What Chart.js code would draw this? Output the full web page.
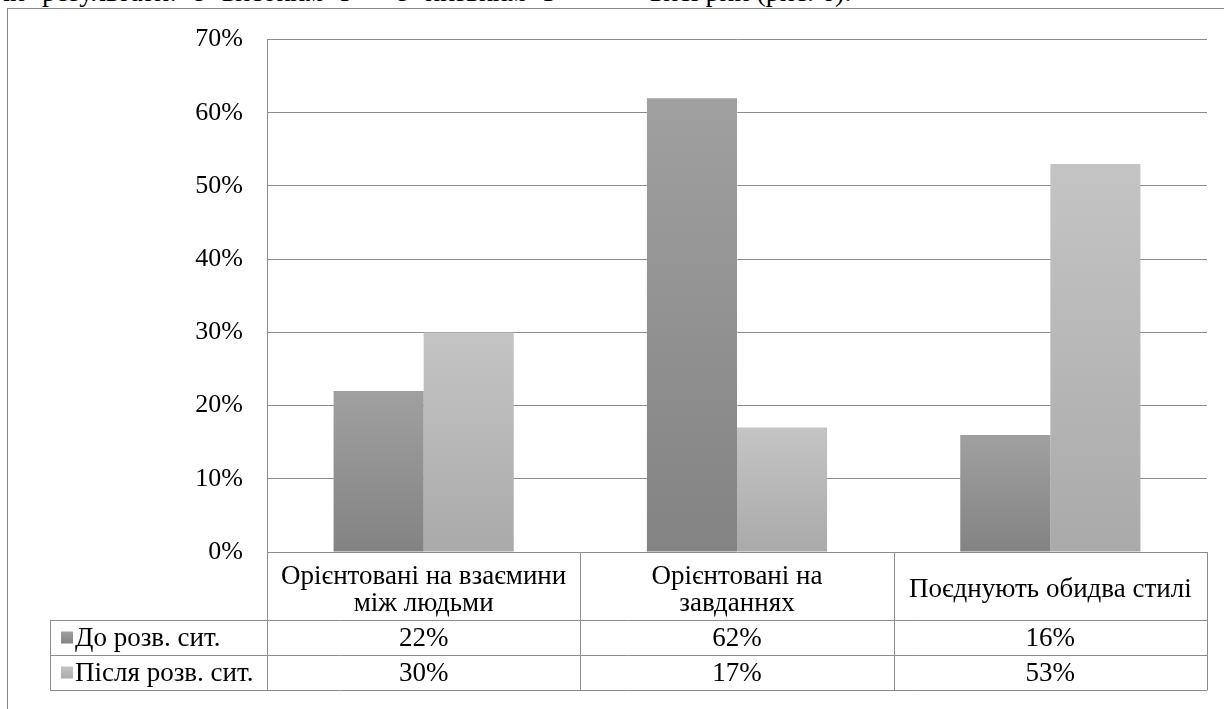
<!DOCTYPE html>
<html>
<head>
<meta charset="utf-8">
<script src="https://cdn.jsdelivr.net/npm/chart.js@4"></script>
<style>
  html, body { margin: 0; padding: 0; background: #fff; overflow: hidden; }
  #wrap { position: relative; width: 1224px; height: 709px; overflow: hidden; }
  .topline { position: absolute; top: -24px; font: 28px "Liberation Serif", "Times New Roman", serif; line-height: 32px; color: #000; white-space: pre; }
  #frame { position: absolute; left: 7px; top: 8px; width: 1230px; height: 720px; border-left: 1px solid #878787; border-top: 1px solid #878787; }
  #c { position: absolute; left: 0; top: 0; }
</style>
</head>
<body>
<div id="wrap">
  <div class="topline" style="left:-4px; word-spacing: 10px;">ли результати: з високим І – з низьким З</div>
  <div class="topline" style="left:650px;">висі рни (рис. 6).</div>
  <div id="frame"></div>
  <canvas id="c" width="1224" height="709"></canvas>
</div>
<script>
// дані діаграми
const categories = [
    ['Орієнтовані на взаємини', 'між людьми'],
    ['Орієнтовані на', 'завданнях'],
    ['Поєднують обидва стилі']
];
const seriesNames = ['До розв. сит.', 'Після розв. сит.'];
const beforeValues = [22, 62, 16];
const afterValues = [30, 17, 53];
const yMax = 70;
const yStep = 10;

const lineColor = '#8c8c8c';
const fontFam = '"Liberation Serif", "Times New Roman", serif';

// градієнт для кожного стовпчика окремо
function barFill(top, bottom) {
    return function (ctx) {
        const chart = ctx.chart;
        const y = chart.scales.y;
        if (!y || ctx.type !== 'data') return bottom;
        const y0 = y.getPixelForValue(0);
        const y1 = y.getPixelForValue(ctx.raw);
        if (!isFinite(y0) || !isFinite(y1) || y0 === y1) return bottom;
        const g = chart.ctx.createLinearGradient(0, y1, 0, y0);
        g.addColorStop(0, top);
        g.addColorStop(1, bottom);
        return g;
    };
}

const swatches = [['#a0a0a0', '#838383'], ['#c4c4c4', '#aaaaaa']];

// таблиця даних під графіком
const dataTable = {
    id: 'dataTable',
    afterDraw(chart) {
        const ctx = chart.ctx;
        const xs = chart.scales.x;
        const area = chart.chartArea;
        const n = categories.length;
        const w = (area.right - area.left) / n;
        const rowTop = area.bottom;
        const r1 = 620, r2 = 655, r3 = 690;
        const tableLeft = 50;

        ctx.save();
        ctx.strokeStyle = lineColor;
        ctx.lineWidth = 1;
        ctx.beginPath();
        for (let i = 0; i <= n; i++) {
            const x = Math.round(area.left + i * w) + 0.5;
            ctx.moveTo(x, rowTop);
            ctx.lineTo(x, r3);
        }
        [r1, r2, r3].forEach(function (y) {
            ctx.moveTo(tableLeft, y + 0.5);
            ctx.lineTo(Math.round(area.right) + 0.5, y + 0.5);
        });
        ctx.moveTo(tableLeft + 0.5, r1);
        ctx.lineTo(tableLeft + 0.5, r3);
        ctx.stroke();

        ctx.fillStyle = '#000';
        ctx.font = '27px ' + fontFam;
        ctx.textAlign = 'center';
        ctx.textBaseline = 'middle';
        const lh = 27;
        const mid = 590;
        categories.forEach(function (lab, i) {
            const cx = xs.getPixelForValue(i);
            const lines = Array.isArray(lab) ? lab : [lab];
            const start = mid - (lines.length - 1) * lh / 2;
            lines.forEach(function (t, k) {
                ctx.fillText(t, cx, start + k * lh);
            });
            ctx.fillText(beforeValues[i] + '%', cx, (r1 + r2) / 2 + 1);
            ctx.fillText(afterValues[i] + '%', cx, (r2 + r3) / 2 + 1);
        });

        // легенда в рядках таблиці
        const rows = [(r1 + r2) / 2, (r2 + r3) / 2];
        ctx.textAlign = 'left';
        seriesNames.forEach(function (name, i) {
            const cy = rows[i];
            const g = ctx.createLinearGradient(0, cy - 6, 0, cy + 6);
            g.addColorStop(0, swatches[i][0]);
            g.addColorStop(1, swatches[i][1]);
            ctx.fillStyle = g;
            ctx.fillRect(61, cy - 6, 12, 12);
            ctx.fillStyle = '#000';
            ctx.fillText(name, 75, cy + 1);
        });
        ctx.restore();
    }
};

const data = {
    labels: categories,
    datasets: [{
        label: seriesNames[0],
        data: beforeValues,
        backgroundColor: barFill(swatches[0][0], swatches[0][1]),
        borderWidth: 0
    }, {
        label: seriesNames[1],
        data: afterValues,
        backgroundColor: barFill(swatches[1][0], swatches[1][1]),
        borderWidth: 0
    }]
};

const config = {
    type: 'bar',
    data: data,
    plugins: [dataTable],
    options: {
        responsive: false,
        animation: false,
        layout: { padding: { left: 0, top: 37, right: 17, bottom: 157 } },
        categoryPercentage: 0.575,
        barPercentage: 1,
        plugins: {
            legend: { display: false },
            tooltip: { enabled: false }
        },
        scales: {
            x: {
                display: false
            },
            y: {
                min: 0,
                max: yMax,
                ticks: {
                    stepSize: yStep,
                    padding: 24,
                    color: '#000',
                    font: { family: fontFam, size: 26 },
                    callback: function (v) { return v + '%'; }
                },
                grid: { color: lineColor, drawTicks: false },
                border: { display: true, color: lineColor },
                afterFit: function (scale) { scale.width = 267; }
            }
        }
    }
};

const chart = new Chart(document.getElementById('c').getContext('2d'), config);
</script>
</body>
</html>
